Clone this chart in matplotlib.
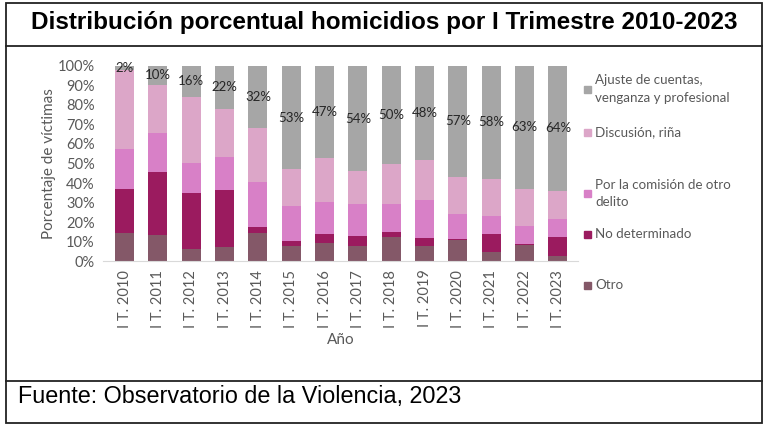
import matplotlib
matplotlib.use("Agg")
import matplotlib.pyplot as plt
from matplotlib.patches import Rectangle
from matplotlib.lines import Line2D
import numpy as np

# data (percent of victims, first quarter of each year)
years = ["I T. 2010", "I T. 2011", "I T. 2012", "I T. 2013", "I T. 2014",
         "I T. 2015", "I T. 2016", "I T. 2017", "I T. 2018", "I T. 2019",
         "I T. 2020", "I T. 2021", "I T. 2022", "I T. 2023"]
otro = [14.6, 13.5, 6.3, 7.2, 14.6, 8.0, 9.5, 8.0, 12.4, 7.7, 10.7, 4.6, 8.3, 2.9]
no_determinado = [22.2, 32.0, 28.5, 29.3, 2.8, 2.4, 4.3, 5.1, 2.8, 4.2, 0.5, 9.4, 0.6, 9.5]
comision = [20.6, 19.9, 15.5, 16.7, 23.0, 17.8, 16.7, 16.4, 14.3, 19.4, 13.0, 9.3, 9.2, 9.1]
discusion = [40.6, 24.6, 33.7, 24.8, 27.6, 18.8, 22.5, 16.5, 20.5, 20.7, 18.8, 18.7, 18.9, 14.5]
ajuste = [2, 10, 16, 22, 32, 53, 47, 54, 50, 48, 57, 58, 63, 64]

series = [
    ("Otro", otro, "#845868"),
    ("No determinado", no_determinado, "#9b1b5f"),
    ("Por la comisión de otro\ndelito", comision, "#d880c7"),
    ("Discusión, riña", discusion, "#dca6c8"),
    ("Ajuste de cuentas,\nvenganza y profesional", ajuste, "#a6a6a6"),
]

FONT = "Lato"
GRAY_TXT = "#595959"

fig = plt.figure(figsize=(7.68, 4.32), dpi=100)
ax = fig.add_axes([0.1341, 0.3951, 0.6185, 0.4528])

x = np.arange(len(years))
bottom = np.zeros(len(years))
for name, vals, col in series:
    v = np.array(vals) / 100.0
    ax.bar(x, v, width=0.57, bottom=bottom, color=col, edgecolor="none")
    bottom += v

# labels for "Ajuste" segment, centred in it
aj = np.array(ajuste) / 100.0
for i, val in enumerate(ajuste):
    ax.text(x[i], 1 - aj[i] / 2, f"{val}%", ha="center", va="center",
            fontsize=9.5, family=FONT, color="#262626")

ax.set_xlim(-0.65, len(years) - 0.4)
ax.set_ylim(0, 1)
ax.set_yticks(np.arange(0, 1.01, 0.1))
ax.set_yticklabels([f"{int(round(t * 100))}%" for t in np.arange(0, 1.01, 0.1)],
                   family=FONT, fontsize=10.5, color=GRAY_TXT)
ax.set_xticks(x)
ax.set_xticklabels(years, rotation=90, family=FONT, fontsize=10.5, color=GRAY_TXT)
ax.tick_params(length=0, pad=6)
for s in ["top", "right", "left"]:
    ax.spines[s].set_visible(False)
ax.spines["bottom"].set_color("#d9d9d9")
ax.set_ylabel("Porcentaje de víctimas", family=FONT, fontsize=11, color=GRAY_TXT, labelpad=1)
ax.set_xlabel("Año", family=FONT, fontsize=11, color=GRAY_TXT, labelpad=4)

# legend drawn by hand (uneven spacing as in the original)
leg_y = [89, 132, 193, 234, 285]
leg_items = list(reversed(series))
for (name, vals, col), yy in zip(leg_items, leg_y):
    fy = 1 - yy / 432
    fig.patches.append(Rectangle((584 / 768, fy - 3.5 / 432), 7 / 768, 7 / 432,
                                 transform=fig.transFigure, color=col))
    fig.text(595 / 768, fy, name, family=FONT, fontsize=9.6, color=GRAY_TXT,
             va="center", ha="left", linespacing=1.5)

# title and source
fig.text(0.5, 1 - 23 / 432, "Distribución porcentual homicidios por I Trimestre 2010-2023",
         family="Liberation Sans", fontweight="bold", fontsize=17.5, ha="center", va="center")
fig.text(18 / 768, 1 - 397 / 432, "Fuente: Observatorio de la Violencia, 2023",
         family="Liberation Sans", fontsize=16.8, ha="left", va="center")

# frame
fig.patches.append(Rectangle((6 / 768, 1 - 423 / 432), 756 / 768, 420 / 432,
                             transform=fig.transFigure, fill=False,
                             edgecolor="#222222", linewidth=1.3))
for yy in [46, 381]:
    fig.add_artist(Line2D([6 / 768, 762 / 768], [1 - yy / 432, 1 - yy / 432],
                          transform=fig.transFigure, color="#222222", linewidth=1.3))

fig.savefig("out.png", dpi=100)
